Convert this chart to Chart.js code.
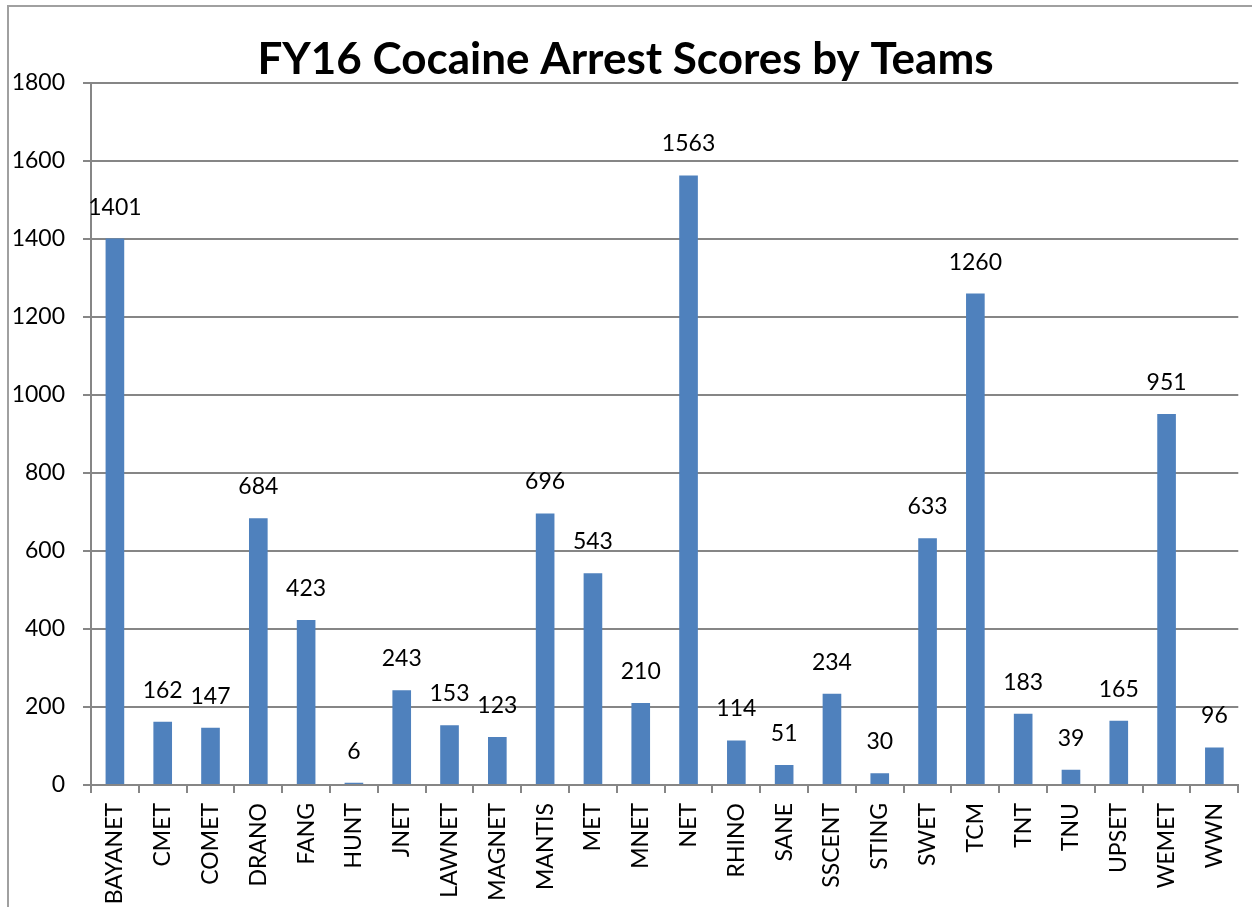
<!DOCTYPE html>
<html>
<head>
<meta charset="utf-8">
<script src="https://cdn.jsdelivr.net/npm/chart.js@4"></script>
<style>
  html, body { margin: 0; padding: 0; background: #fff; }
  #wrap { width: 1252px; height: 907px; position: relative; }
</style>
</head>
<body>
<div id="wrap"><canvas id="grafico-barras" width="1252" height="907"></canvas></div>
<script>
const teams = ['BAYANET', 'CMET', 'COMET', 'DRANO', 'FANG', 'HUNT', 'JNET', 'LAWNET', 'MAGNET', 'MANTIS', 'MET', 'MNET', 'NET', 'RHINO', 'SANE', 'SSCENT', 'STING', 'SWET', 'TCM', 'TNT', 'TNU', 'UPSET', 'WEMET', 'WWN'];
const scores = [1401, 162, 147, 684, 423, 6, 243, 153, 123, 696, 543, 210, 1563, 114, 51, 234, 30, 633, 1260, 183, 39, 165, 951, 96];
const titleText = 'FY16 Cocaine Arrest Scores by Teams';

// valores em cima das barras
const valueLabels = {
    id: 'valueLabels',
    afterDatasetsDraw(chart) {
        let ctx = chart.ctx;
        let meta = chart.getDatasetMeta(0);
        ctx.save();
        ctx.font = '23px Lato';
        ctx.fillStyle = '#000000';
        ctx.textAlign = 'center';
        ctx.textBaseline = 'bottom';
        meta.data.forEach(function(bar, i) {
            ctx.fillText(String(scores[i]), bar.x, bar.y - 20);
        });
        ctx.restore();
    }
};

// moldura cinza do grafico (esquerda e topo)
const frame = {
    id: 'frame',
    beforeDraw(chart) {
        let ctx = chart.ctx;
        ctx.save();
        ctx.strokeStyle = '#a0a0a0';
        ctx.lineWidth = 2;
        ctx.beginPath();
        ctx.moveTo(8, 907);
        ctx.lineTo(8, 6);
        ctx.lineTo(1252, 6);
        ctx.stroke();
        ctx.restore();
    }
};

function drawChart() {
    let ctx = document.getElementById('grafico-barras').getContext('2d');
    const data = {
        labels: teams,
        datasets: [{
            label: '',
            data: scores,
            backgroundColor: '#4f81bd',
            borderWidth: 0,
            barPercentage: 0.39,
            categoryPercentage: 1.0
        }]
    };
    const config = {
        type: 'bar',
        data: data,
        plugins: [valueLabels, frame],
        options: {
            responsive: false,
            animation: false,
            layout: {
                padding: { left: 0, right: 1, top: 0, bottom: 0 }
            },
            plugins: {
                legend: false,
                tooltip: false,
                title: {
                    display: true,
                    text: titleText,
                    color: '#000000',
                    font: { family: 'Lato', size: 44, weight: 'bold', lineHeight: 1.0 },
                    padding: { top: 38, bottom: 1 }
                }
            },
            scales: {
                x: {
                    afterFit: function(scale) { scale.height = 122; },
                    grid: {
                        display: true,
                        drawOnChartArea: false,
                        drawTicks: true,
                        tickLength: 8,
                        offset: true,
                        color: '#868686',
                        lineWidth: 2
                    },
                    border: { display: true, color: '#868686', width: 2 },
                    ticks: {
                        color: '#000000',
                        font: { family: 'Lato', size: 23 },
                        minRotation: 90,
                        maxRotation: 90,
                        autoSkip: false,
                        padding: 10
                    }
                },
                y: {
                    min: 0,
                    max: 1800,
                    afterFit: function(scale) { scale.width = 91; },
                    ticks: {
                        stepSize: 200,
                        color: '#000000',
                        font: { family: 'Lato', size: 23 },
                        padding: 18,
                        callback: function(value) { return String(value); }
                    },
                    grid: {
                        color: '#868686',
                        lineWidth: 2,
                        tickLength: 8
                    },
                    border: { display: true, color: '#868686', width: 2 }
                }
            }
        }
    };
    new Chart(ctx, config);
}

drawChart();
</script>
</body>
</html>
